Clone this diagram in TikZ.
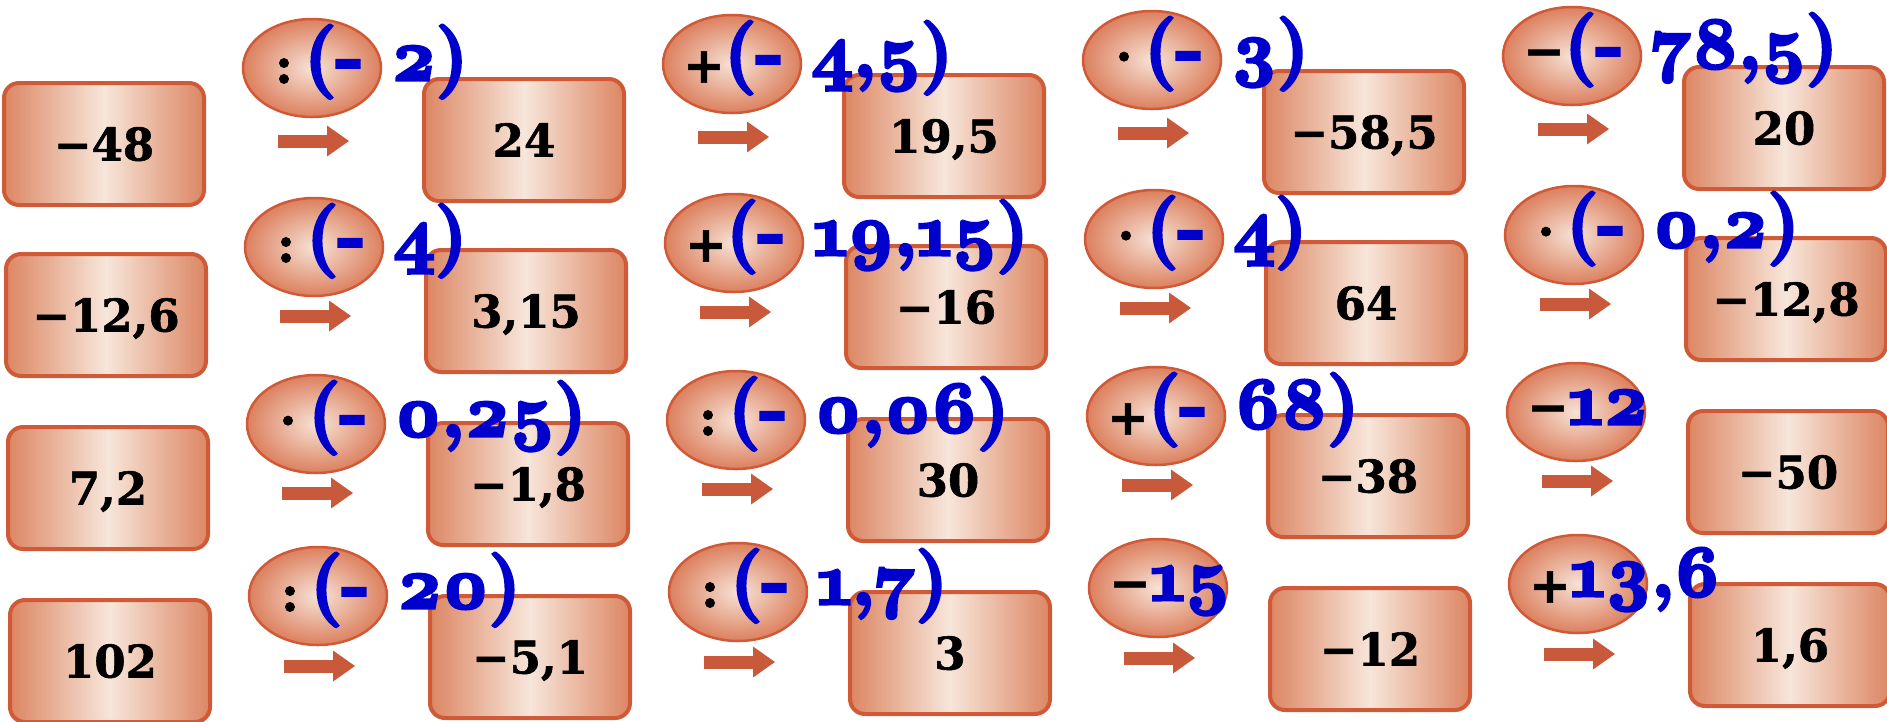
\documentclass[tikz,border=0pt]{standalone}
\usepackage{fontspec}
\newfontfamily\numfont{DejaVu Serif}[BoldFeatures={FakeBold=1.2}]
\newfontfamily\bluefont{Latin Modern Roman}[Numbers=OldStyle, BoldFeatures={FakeBold=4.5}]
\usetikzlibrary{arrows.meta,shapes.geometric}
\definecolor{boxedge}{HTML}{D05A38}
\definecolor{boxside}{HTML}{DC8663}
\definecolor{boxmid}{HTML}{F7E6DA}
\definecolor{ellout}{HTML}{DC805E}
\definecolor{ellin}{HTML}{F6E2D6}
\definecolor{arrowc}{HTML}{C85A3B}
\definecolor{hintblue}{HTML}{0000CC}
\tikzset{
  numbox/.style={draw=boxedge, line width=4pt, rounded corners=15pt, left color=boxside, right color=boxside, middle color=boxmid,
    minimum width=200pt, minimum height=122pt, inner sep=0pt, text height=33pt, text depth=0pt,
    font=\numfont\bfseries\fontsize{45}{45}\selectfont},
  opoval/.style={ellipse, draw=boxedge, line width=2.5pt, inner color=ellin, outer color=ellout, minimum width=138pt, minimum height=98pt, inner sep=0pt},
  opsign/.style={inner sep=0pt, font=\numfont\bfseries\fontsize{50}{50}\selectfont},
  hint/.style={anchor=base west, inner sep=0pt, text=hintblue, font=\bluefont\bfseries\fontsize{73}{73}\selectfont},
  fl/.style={-{Triangle[length=22pt, width=31pt, line width=0pt]}, line width=13pt, draw=arrowc},
}
\begin{document}
\begin{tikzpicture}[x=1pt, y=-1pt]
  \useasboundingbox (0,0) rectangle (1887,721);
  % first column
  \foreach \r/\v in {0/{−48}, 1/{−12,6}, 2/{7,2}, 3/{102}} {
    \pgfmathsetmacro\by{{140,311,484,657}[\r]+4}
    \node[numbox] (n\r0) at ({104+2*\r},\by) {\v};
  }
  % operation, arrow, result
  \foreach \r/\c/\op/\hn/\res in {
      0/1/:/{(- 2)}/{24}, 0/2/+/{(- 4,5)}/{19,5}, 0/3/·/{(- 3)}/{−58,5}, 0/4/−/{(- 78,5)}/{20},
      1/1/:/{(- 4)}/{3,15}, 1/2/+/{(- 19,15)}/{−16}, 1/3/·/{(- 4)}/{64}, 1/4/·/{(- 0,2)}/{−12,8},
      2/1/·/{(- 0,25)}/{−1,8}, 2/2/:/{(- 0,06)}/{30}, 2/3/+/{(- 68)}/{−38}, 2/4/−/{12}/{−50},
      3/1/:/{(- 20)}/{−5,1}, 3/2/:/{(- 1,7)}/{3}, 3/3/−/{15}/{−12}, 3/4/+/{13,6}/{1,6}} {
    \pgfmathsetmacro\bx{104+420*\c+2*\r}
    \pgfmathsetmacro\by{{140,311,484,657}[\r]+4-4*\c}
    \pgfmathsetmacro\ex{\bx-212}
    \pgfmathsetmacro\ey{{68,247,424,596}[\r]+4-4*\c}
    \pgfmathsetmacro\ay{{141,316,493,666}[\r]+4-4*\c}
    \node[opoval] (e\r\c) at (\ex,\ey) {};
    \node[opsign] (s\r\c) at ({\ex-28},{\ey+3}) {\op};
    \coordinate (a\r\c) at ({\bx-246},\ay);
    \coordinate (b\r\c) at ({\bx-175},\ay);
    \draw[fl] (a\r\c) -- (b\r\c);
    \node[numbox] (n\r\c) at (\bx,\by) {\res};
    \node[hint] (h\r\c) at ({\ex-8},{\ey+12}) {\hn};
  }
\end{tikzpicture}
\end{document}
